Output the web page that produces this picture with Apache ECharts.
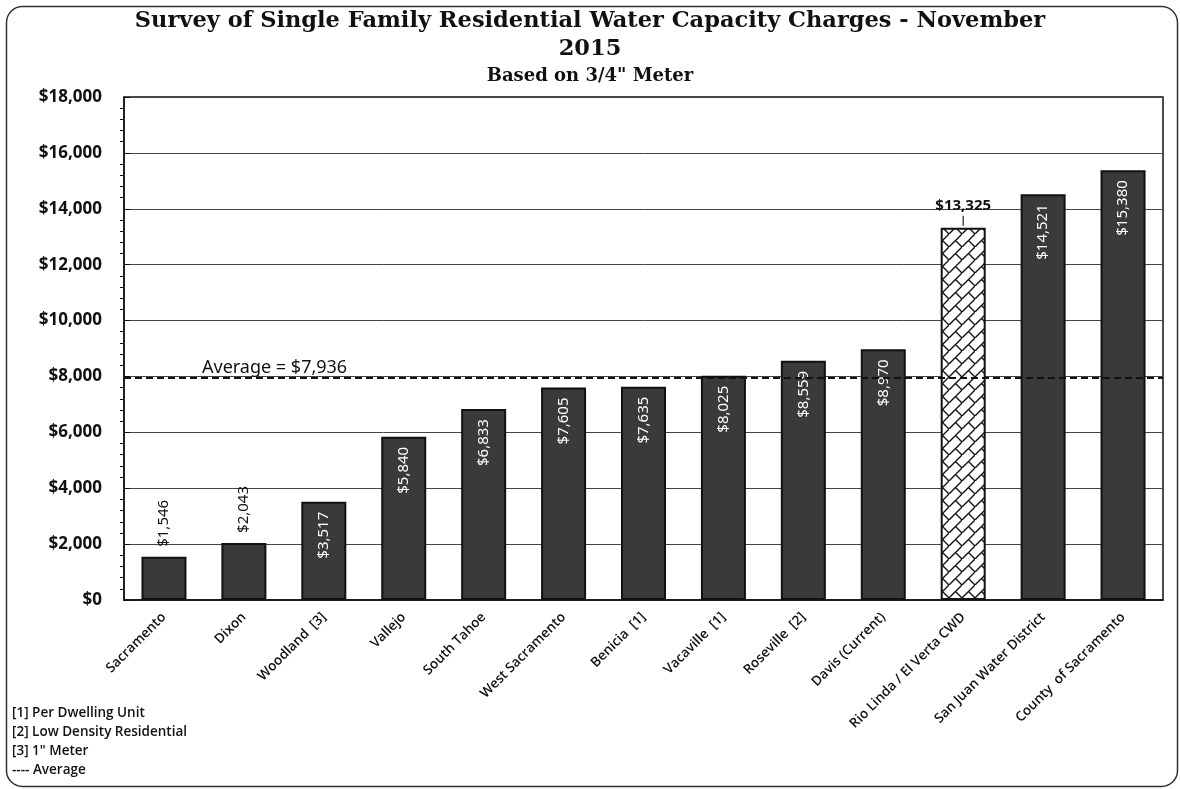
<!DOCTYPE html>
<html>
<head>
<meta charset="utf-8">
<script src="https://cdn.jsdelivr.net/npm/echarts@6/dist/echarts.min.js"></script>
<style>
  html, body { margin: 0; padding: 0; background: #fff; }
  #chart { width: 1180px; height: 789px; }
</style>
</head>
<body>
<div id="chart"></div>
<script>
// data
const categories = [
  'Sacramento', 'Dixon', 'Woodland  [3]', 'Vallejo', 'South Tahoe', 'West Sacramento',
  'Benicia  [1]', 'Vacaville  [1]', 'Roseville  [2]', 'Davis (Current)',
  'Rio Linda / El Verta CWD', 'San Juan Water District', 'County  of Sacramento'
]
const charges = [1546, 2043, 3517, 5840, 6833, 7605, 7635, 8025, 8559, 8970, 13325, 14521, 15380]
const average = 7936
const hatchedName = 'Rio Linda / El Verta CWD'
const notes = ['[1] Per Dwelling Unit', '[2] Low Density Residential', '[3] 1" Meter', '---- Average']

const money = v => '$' + v.toLocaleString('en-US')

// white tile with "diagonal brick" lines for the highlighted bar
function brickPattern () {
  const c = document.createElement('canvas')
  c.width = 13
  c.height = 13
  const g = c.getContext('2d')
  g.fillStyle = '#fff'
  g.fillRect(0, 0, 13, 13)
  g.strokeStyle = '#111'
  g.lineWidth = 1.4
  g.beginPath()
  g.moveTo(-1, 14); g.lineTo(14, -1)
  g.moveTo(6.5, 6.5); g.lineTo(13, 13)
  g.stroke()
  return c
}

const barData = charges.map((v, i) => {
  const item = { value: v }
  if (categories[i] === hatchedName) {
    item.itemStyle = { color: { image: brickPattern(), repeat: 'repeat' } }
    // value above the bar with a short leader tick
    item.label = {
      position: 'top', rotate: 0, align: 'center', verticalAlign: 'bottom',
      distance: 2,
      formatter: p => '{v|' + money(p.value) + '}\n{l|}',
      rich: {
        v: { color: '#111', fontWeight: 'bold', fontSize: 15, fontFamily: 'Noto Sans', lineHeight: 20 },
        l: { width: 1.2, height: 10, backgroundColor: '#222' }
      }
    }
  } else if (v < 3000) {
    item.label = {
      position: 'top', rotate: 90, align: 'left', verticalAlign: 'middle',
      color: '#111', distance: 10
    }
  }
  return item
})

const chart = echarts.init(document.getElementById('chart'))
chart.setOption({
  backgroundColor: '#fff',
  animation: false,
  title: [
    {
      text: 'Survey of Single Family Residential Water Capacity Charges - November\n2015',
      left: 'center',
      top: 2,
      textStyle: { fontFamily: 'DejaVu Serif', fontWeight: 'bold', fontSize: 22.5, lineHeight: 28, color: '#111' }
    },
    {
      text: 'Based on 3/4" Meter',
      left: 'center',
      top: 62,
      textStyle: { fontFamily: 'DejaVu Serif', fontWeight: 'bold', fontSize: 18, color: '#111' }
    }
  ],
  grid: {
    left: 124,
    right: 17,
    top: 97,
    bottom: 189,
    show: true,
    borderColor: '#111',
    borderWidth: 1.5
  },
  xAxis: {
    type: 'category',
    data: categories,
    axisLine: { lineStyle: { color: '#111', width: 1.5 } },
    axisTick: { show: false },
    axisLabel: {
      rotate: 45,
      interval: 0,
      margin: 15,
      fontFamily: 'Open Sans',
      fontWeight: 600,
      fontSize: 13.5,
      color: '#111'
    }
  },
  yAxis: {
    type: 'value',
    min: 0,
    max: 18000,
    interval: 2000,
    axisLine: { show: true, lineStyle: { color: '#111', width: 1.5 } },
    axisTick: { show: true, inside: true, length: 6, lineStyle: { color: '#111' } },
    minorTick: { show: true, splitNumber: 5, length: -4, lineStyle: { color: '#111' } },
    splitLine: { lineStyle: { color: '#444', width: 1 } },
    axisLabel: {
      formatter: money,
      margin: 22,
      fontFamily: 'Noto Sans',
      fontWeight: 'bold',
      fontSize: 17,
      color: '#111'
    }
  },
  series: [
    {
      type: 'bar',
      data: barData,
      barWidth: 45,
      itemStyle: { color: '#3a3a3a', borderColor: '#111', borderWidth: 2 },
      label: {
        show: true,
        position: 'insideTop',
        rotate: 90,
        align: 'right',
        verticalAlign: 'middle',
        distance: 10,
        formatter: p => money(p.value),
        fontFamily: 'Noto Sans',
        fontSize: 15,
        color: '#fff'
      },
      markLine: {
        silent: true,
        symbol: 'none',
        lineStyle: { type: [7, 4], color: '#111', width: 2 },
        label: {
          position: 'insideStartTop',
          formatter: 'Average = ' + money(average),
          distance: [78, 1],
          fontFamily: 'Noto Sans',
          fontSize: 18,
          color: '#111'
        },
        data: [{ yAxis: average }]
      }
    }
  ],
  graphic: [
    {
      type: 'rect',
      left: 4,
      top: 4,
      shape: { width: 1171, height: 780, r: 16 },
      style: { fill: 'none', stroke: '#333', lineWidth: 1.5 },
      silent: true
    },
    ...notes.map((t, i) => ({
      type: 'text',
      left: 12,
      top: 706 + i * 19,
      style: { text: t, font: '600 13.5px "Open Sans"', fill: '#111' }
    }))
  ]
})
</script>
</body>
</html>
